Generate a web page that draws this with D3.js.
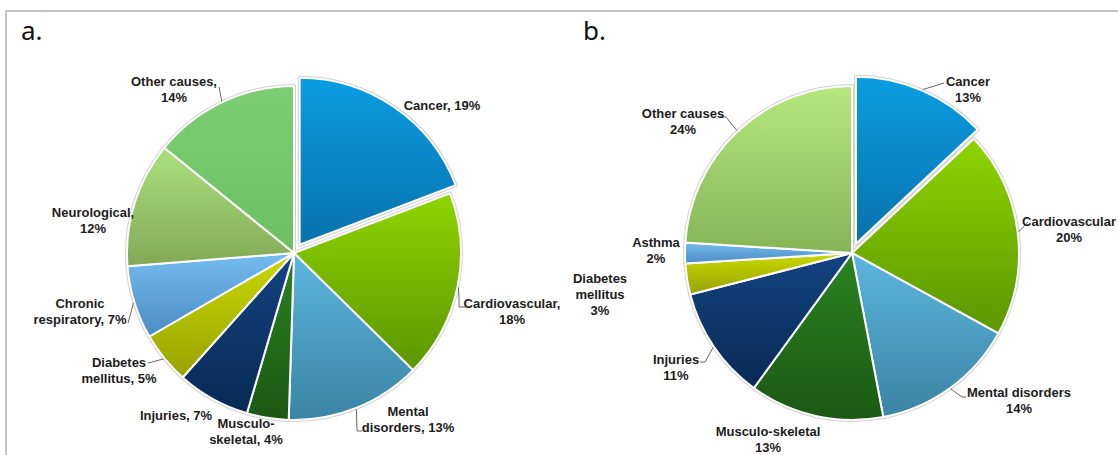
<!DOCTYPE html>
<html><head><meta charset="utf-8">
<script src="https://cdn.jsdelivr.net/npm/d3@7"></script>
<style>
html,body{margin:0;padding:0;background:#fff;overflow:hidden;}
svg{display:block;}
</style></head>
<body>
<svg id="chart" width="1118" height="455"></svg>
<script>
// ---------- data ----------
const categoriesA = ["Cancer","Cardiovascular","Mental disorders","Musculo-skeletal","Injuries","Diabetes mellitus","Chronic respiratory","Neurological","Other causes"];
const valuesA = [19,18,13,4,7,5,7,12,14];
const labelLinesA = [["Cancer, 19%"],["Cardiovascular,","18%"],["Mental","disorders, 13%"],["Musculo-","skeletal, 4%"],["Injuries, 7%"],["Diabetes","mellitus, 5%"],["Chronic","respiratory, 7%"],["Neurological,","12%"],["Other causes,","14%"]];

const categoriesB = ["Cancer","Cardiovascular","Mental disorders","Musculo-skeletal","Injuries","Diabetes mellitus","Asthma","Other causes"];
const valuesB = [13,20,14,13,11,3,2,24];
const labelLinesB = [["Cancer","13%"],["Cardiovascular","20%"],["Mental disorders","14%"],["Musculo-skeletal","13%"],["Injuries","11%"],["Diabetes","mellitus","3%"],["Asthma","2%"],["Other causes","24%"]];

// ---------- styles (colour gradients top -> bottom) ----------
const colorsA = [["#0a9de2","#0872ac"],["#8fd400","#5b9600"],["#5cb6de","#3a84a4"],["#2b8221","#1b5913"],["#134481","#082a55"],["#c9da00","#98a200"],["#74bcee","#4b8cc4"],["#abe07d","#82a956"],["#7dce73","#6cbf62"]];
const colorsB = [["#0a9de2","#0872ac"],["#8fd400","#5b9600"],["#5cb6de","#3a84a4"],["#2b8221","#1b5913"],["#134481","#082a55"],["#c9da00","#98a200"],["#74bcee","#4b8cc4"],["#b6e87e","#86b456"]];

// label layout (centre of label block, relative to pie centre) and leader ends
const layoutA = [
  {x:148,y:-148},{x:218,y:58},{x:114,y:166},{x:-48,y:178},{x:-118,y:162},
  {x:-175,y:117},{x:-214,y:58},{x:-201,y:-33},{x:-120,y:-164}];
const leadersA = [null,[[459-294,297-253],[459-294,307-253],[465-294,307-253]],
  [[357-294,431-253],[362-294,431-253]],null,null,[[148-294,363-253]],[[128-294,323-253]],null,[[219-294,87-253]]];

const layoutB = [
  {x:116,y:-164},{x:217,y:-24},{x:167,y:147},{x:-84,y:186},{x:-176,y:114},
  {x:-252,y:41},{x:-196,y:-3},{x:-169,y:-132}];
const leadersB = [[[944-852,83-253]],[[1028-852,222-253]],[[962-852,397-253],[966-852,397-253]],null,
  [[705-852,362-253],[700-852,362-253]],null,null,[[726-852,117-253],[719-852,117-253]]];

const svg = d3.select("#chart");
const defs = svg.append("defs");

// frame
svg.append("line").attr("x1",5).attr("x2",1118).attr("y1",11).attr("y2",11).attr("stroke","#c3c3c3").attr("stroke-width",2);
svg.append("line").attr("x1",6).attr("x2",6).attr("y1",10).attr("y2",455).attr("stroke","#c3c3c3").attr("stroke-width",2);

svg.append("text").attr("x",21).attr("y",40).text("a.").attr("font-family","'Noto Sans', 'Open Sans', sans-serif").attr("font-size",26).attr("fill","#111");
svg.append("text").attr("x",583).attr("y",40).text("b.").attr("font-family","'Noto Sans', 'Open Sans', sans-serif").attr("font-size",26).attr("fill","#111");

function drawPie(id, cx, cy, r, cats, vals, colors, labels, layout, leaders, explodeIdx, explodeDist){
  const g = svg.append("g").attr("transform",`translate(${cx},${cy})`);
  const pie = d3.pie().sort(null).value(d=>d.v);
  const arcs = pie(cats.map((c,i)=>({c, v:vals[i], i})));
  const arc = d3.arc().innerRadius(0).outerRadius(r);
  colors.forEach((c,i)=>{
    const lg = defs.append("linearGradient").attr("id",`${id}g${i}`).attr("x1",0).attr("y1",0).attr("x2",0).attr("y2",1);
    lg.append("stop").attr("offset","0%").attr("stop-color",c[0]);
    lg.append("stop").attr("offset","100%").attr("stop-color",c[1]);
  });
  const off = (a)=>{
    if(a.index!==explodeIdx) return [0,0];
    const m=(a.startAngle+a.endAngle)/2;
    return [Math.sin(m)*explodeDist, -Math.cos(m)*explodeDist];
  };
  // shadow/outline
  g.selectAll("path.sh").data(arcs).enter().append("path").attr("class","sh")
    .attr("d",arc).attr("transform",d=>`translate(${off(d)})`)
    .attr("fill","#cfcfcf").attr("stroke","#d2d2d2").attr("stroke-width",4).attr("stroke-linejoin","round");
  g.selectAll("path.sl").data(arcs).enter().append("path").attr("class","sl")
    .attr("d",arc).attr("transform",d=>`translate(${off(d)})`)
    .attr("fill",(d,i)=>`url(#${id}g${i})`).attr("stroke","#fff").attr("stroke-width",2).attr("stroke-linejoin","round");
  // leader lines
  arcs.forEach((a,i)=>{
    if(!leaders[i]) return;
    const m=(a.startAngle+a.endAngle)/2;
    const o=off(a);
    const p0=[Math.sin(m)*(r+1)+o[0], -Math.cos(m)*(r+1)+o[1]];
    const pts=[p0].concat(leaders[i]);
    g.append("path").attr("d",d3.line()(pts)).attr("fill","none").attr("stroke","#666").attr("stroke-width",1);
  });
  // labels
  arcs.forEach((a,i)=>{
    const L=labels[i], p=layout[i];
    const t=g.append("text").attr("text-anchor","middle")
      .attr("font-family","'Liberation Sans', Arial, sans-serif").attr("font-weight","bold")
      .attr("font-size",13).attr("fill","#1c1c1c");
    L.forEach((s,k)=>{
      t.append("tspan").attr("x",p.x).attr("y",p.y + k*16 - (L.length-1)*8 + 4.5).text(s);
    });
  });
}

drawPie("A",294,253,167,categoriesA,valuesA,colorsA,labelLinesA,layoutA,leadersA,0,10);
drawPie("B",852,253,167,categoriesB,valuesB,colorsB,labelLinesB,layoutB,leadersB,0,10);
</script>
</body></html>
